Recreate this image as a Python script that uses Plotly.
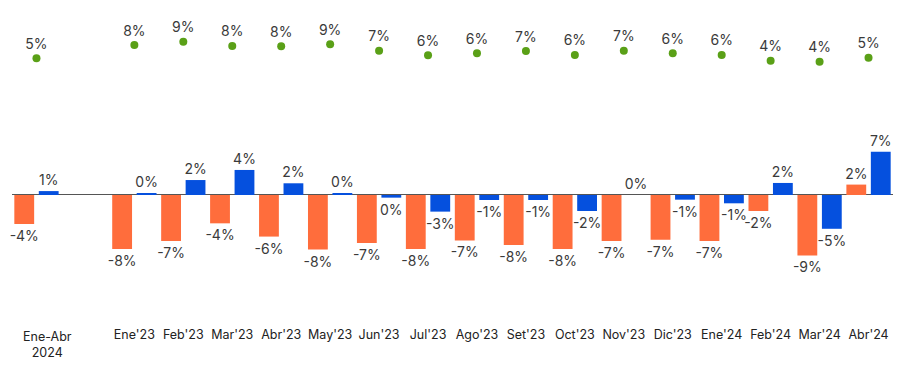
import plotly.graph_objects as go

categories = ["Ene-Abr<br>2024", " ", "Ene'23", "Feb'23", "Mar'23", "Abr'23", "May'23", "Jun'23",
              "Jul'23", "Ago'23", "Set'23", "Oct'23", "Nov'23", "Dic'23", "Ene'24", "Feb'24",
              "Mar'24", "Abr'24"]

orange_vals = [-4.46, None, -8.3, -7.08, -4.36, -6.4, -8.4, -7.4, -8.3, -7.0, -7.7, -8.3,
               -7.08, -6.9, -7.08, -2.46, -9.3, 1.6]
blue_vals = [0.6, None, 0.2, 2.3, 3.85, 1.8, 0.26, -0.41, -2.56, -0.77, -0.77, -2.46,
             0.0, -0.72, -1.28, 1.85, -5.2, 6.67]
green_vals = [4.75, None, 8.44, 9.36, 8.17, 8.08, 8.64, 6.86, 5.58, 6.14, 6.78, 5.67,
              6.86, 6.14, 5.67, 4.08, 3.8, 4.92]


def labels(vals):
    out = []
    for v in vals:
        if v is None:
            out.append("")
        else:
            r = int(round(v))
            out.append(f"{0 if r == 0 else r}%")
    return out


FAMILY = "Inter, Noto Sans, sans-serif"
LABEL_FONT = dict(family=FAMILY, size=14, color="#3a3a3a")
TICK_FONT = dict(family=FAMILY, size=12.5, color="#222222")

fig = go.Figure()
fig.add_trace(go.Bar(
    x=categories, y=orange_vals, name="A",
    marker=dict(color="#FF6D3C", line=dict(width=0)),
    text=labels(orange_vals), textposition="outside", textfont=LABEL_FONT,
    cliponaxis=False, constraintext="none",
))
fig.add_trace(go.Bar(
    x=categories, y=blue_vals, name="B",
    marker=dict(color="#0550DE", line=dict(width=0)),
    text=labels(blue_vals), textposition="outside", textfont=LABEL_FONT,
    cliponaxis=False, constraintext="none",
))
fig.add_trace(go.Scatter(
    x=categories, y=green_vals, name="C", yaxis="y2", mode="markers+text",
    marker=dict(color="#5AA017", size=8),
    text=labels(green_vals), textposition="top center", textfont=LABEL_FONT,
    cliponaxis=False,
))

ticktext = [""] + categories[1:]

fig.update_layout(
    width=891, height=351,
    margin=dict(l=4, r=6, t=12, b=37),
    paper_bgcolor="white", plot_bgcolor="white",
    showlegend=False,
    barmode="group", bargap=0.0, bargroupgap=0.19,
    xaxis=dict(type="category", range=[-0.5, 17.5], automargin=False,
               tickmode="array", tickvals=categories, ticktext=ticktext,
               showgrid=False, showline=False, ticks="", ticklabelstandoff=3,
               tickfont=TICK_FONT),
    yaxis=dict(range=[-19.54, 26.92], automargin=False, showgrid=False, showticklabels=False,
               zeroline=True, zerolinecolor="#555555", zerolinewidth=1),
    yaxis2=dict(range=[-68.5, 15.39], overlaying="y", automargin=False, showgrid=False,
                showticklabels=False, zeroline=False),
    annotations=[dict(
        text=categories[0], x=categories[0], xref="x", y=0, yref="paper",
        yanchor="top", xanchor="center", xshift=11, yshift=-5,
        showarrow=False, font=TICK_FONT, align="center",
    )],
)

fig.write_html("out.html")
